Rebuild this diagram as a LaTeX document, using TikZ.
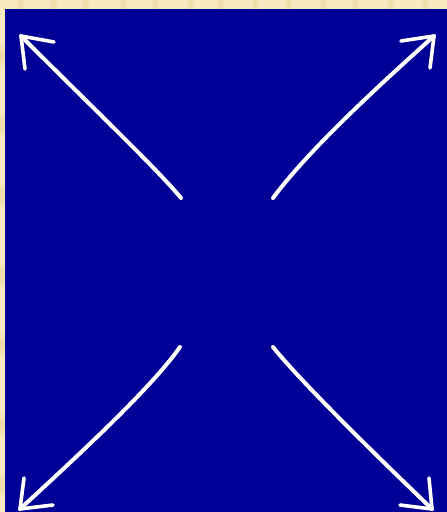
\documentclass[tikz,border=0pt]{standalone}
\usetikzlibrary{calc}
\definecolor{paper}{HTML}{F8EBC2}
\definecolor{paperdark}{HTML}{EEDCA6}
\definecolor{board}{HTML}{000096}
\tikzset{
  stroke/.style={draw=white, line width=4pt, line cap=round, line join=round},
  headline/.style={draw=white, line width=3.6pt, line cap=round, line join=round}
}
\begin{document}
\begin{tikzpicture}[x=1pt,y=-1pt]
  \useasboundingbox (0,0) rectangle (447,512);
  % paper border
  \fill[paper] (0,0) rectangle (447,512);
  \foreach \xx in {15,48,80,118,150,185,215,250,283,318,350,385,420} {
    \shade[left color=paper, right color=paper, middle color=paperdark] (\xx,0) rectangle ++(10,9);
  }
  \foreach \yy in {40,110,180,260,330,410,470} {
    \shade[top color=paper, bottom color=paper, middle color=paperdark] (0,\yy) rectangle ++(5,30);
  }
  % blue board
  \fill[board] (5,9) rectangle (447,512);
  % key points
  \coordinate (tlA) at (181,198); \coordinate (tlT) at (21,36);
  \coordinate (trA) at (273,198); \coordinate (trT) at (434,36);
  \coordinate (blA) at (180,347); \coordinate (blT) at (20,509);
  \coordinate (brA) at (273,347); \coordinate (brT) at (432,509);
  % shafts
  \draw[stroke] (tlA) .. controls (158,170) and (95,110) .. (tlT);
  \draw[stroke] (trA) .. controls (310,148) and (385,80) .. (trT);
  \draw[stroke] (blA) .. controls (152,387) and (82,452) .. (blT);
  \draw[stroke] (brA) .. controls (296,376) and (360,440) .. (brT);
  % heads
  \draw[headline] (54,42) -- (tlT) -- (25,69);
  \draw[headline] (401,41) -- (trT) -- (430,68);
  \draw[headline] (24,478) -- (blT) -- (53,505);
  \draw[headline] (429,478) -- (brT) -- (400,505);
\end{tikzpicture}
\end{document}
